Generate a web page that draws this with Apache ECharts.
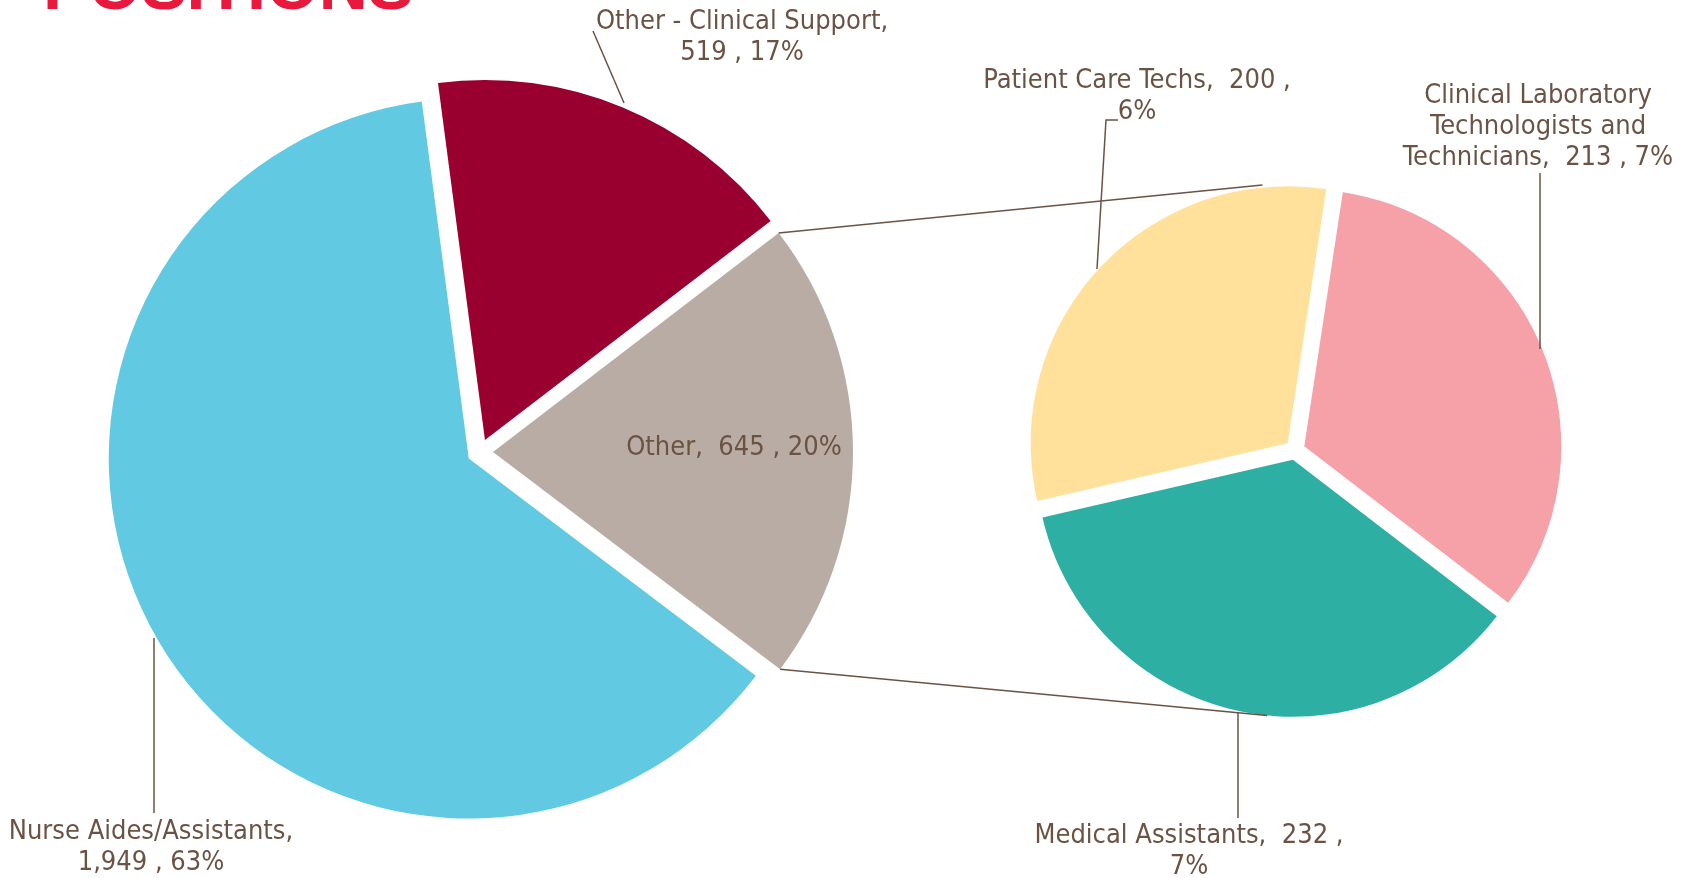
<!DOCTYPE html>
<html>
<head>
<meta charset="utf-8">
<title>Clinical Support Positions</title>
<script src="https://cdn.jsdelivr.net/npm/echarts@6/dist/echarts.min.js"></script>
<style>
    html, body { margin: 0; padding: 0; background: #fff; }
    #chart { width: 1686px; height: 878px; }
</style>
</head>
<body>
<div id="chart"></div>
<script>
// 主饼图数据
const mainNames = ['Other - Clinical Support', 'Other', 'Nurse Aides/Assistants'];
const mainValues = [519, 645, 1949];
const mainPercents = ['17%', '20%', '63%'];
const mainColors = ['#990030', '#B9ACA4', '#62C9E3'];

// 次级饼图数据（"Other" 拆分）
const subNames = ['Patient Care Techs', 'Clinical Laboratory Technologists and Technicians', 'Medical Assistants'];
const subValues = [200, 213, 232];
const subPercents = ['6%', '7%', '7%'];
const subColors = ['#FFE19B', '#F5A1A7', '#2DAFA3'];

const textColor = '#6B5344';
const labelFont = '27px "DejaVu Sans Condensed"';

// 饼图几何
const mainPie = { cx: 480, cy: 452, r: 360, offset: 13, start: 97.5 };
const subPie = { cx: 1295, cy: 450, r: 257, offset: 10, start: 193 };

// 标签文字的换行方式
function labelText(name, value, pct) {
    const v = value.toLocaleString('en-US');
    switch (name) {
        case 'Other - Clinical Support':
        case 'Nurse Aides/Assistants':
            return name + ',\n' + v + ' , ' + pct;
        case 'Other':
            return name + ',  ' + v + ' , ' + pct;
        case 'Clinical Laboratory Technologists and Technicians':
            return 'Clinical Laboratory\nTechnologists and\nTechnicians,  ' + v + ' , ' + pct;
        default:
            return name + ',  ' + v + ' ,\n' + pct;
    }
}

// 标签位置与引导线（像素）
const labelPos = {
    'Other - Clinical Support': { x: 742, y: 37, line: [[624, 103], [593, 31]] },
    'Other': { x: 734, y: 448 },
    'Nurse Aides/Assistants': { x: 151, y: 847, line: [[154, 638], [154, 813]] },
    'Patient Care Techs': { x: 1137, y: 96, line: [[1097, 269], [1106, 120], [1118, 120]] },
    'Clinical Laboratory Technologists and Technicians': { x: 1538, y: 127, line: [[1540, 349], [1540, 173]] },
    'Medical Assistants': { x: 1189, y: 851, line: [[1238, 712], [1238, 818]] }
};

function buildData(names, values, colors) {
    return names.map((name, i) => ({
        name: name,
        value: values[i],
        selected: true,
        itemStyle: { color: colors[i] }
    }));
}

function pieSeries(pie, names, values, colors) {
    return {
        type: 'pie',
        center: [pie.cx, pie.cy],
        radius: [0, pie.r],
        startAngle: pie.start,
        clockwise: true,
        selectedMode: 'multiple',
        selectedOffset: pie.offset,
        animation: false,
        emphasis: { disabled: true },
        select: { itemStyle: { borderWidth: 0 } },
        label: { show: false },
        labelLine: { show: false },
        data: buildData(names, values, colors)
    };
}

// 标签与引导线图形
function labelGraphics(names, values, pcts) {
    const out = [];
    names.forEach((name, i) => {
        const p = labelPos[name];
        out.push({
            type: 'text', x: p.x, y: p.y, z: 20,
            style: {
                text: labelText(name, values[i], pcts[i]),
                fill: textColor, font: labelFont, lineHeight: 31,
                align: 'center', verticalAlign: 'middle'
            }
        });
        if (p.line) {
            out.push({
                type: 'polyline', z: 20,
                shape: { points: p.line },
                style: { stroke: textColor, lineWidth: 1.5, fill: null }
            });
        }
    });
    return out;
}

// 连接线：从主饼图 "Other" 扇区两角连到次级饼图上下
function pointOn(pie, angleDeg, radius, shift) {
    const a = angleDeg * Math.PI / 180;
    return [pie.cx + shift[0] + radius * Math.cos(a), pie.cy + shift[1] - radius * Math.sin(a)];
}

const total = mainValues.reduce((s, v) => s + v, 0);
const otherIdx = mainNames.indexOf('Other');
const before = mainValues.slice(0, otherIdx).reduce((s, v) => s + v, 0);
const otherStart = mainPie.start - 360 * before / total;
const otherEnd = otherStart - 360 * mainValues[otherIdx] / total;
const otherMid = (otherStart + otherEnd) / 2 * Math.PI / 180;
const otherShift = [mainPie.offset * Math.cos(otherMid), -mainPie.offset * Math.sin(otherMid)];
const cTop = pointOn(mainPie, otherStart, mainPie.r, otherShift);
const cBot = pointOn(mainPie, otherEnd, mainPie.r, otherShift);
const sTop = pointOn(subPie, 97, subPie.r + subPie.offset, [0, 0]);
const sBot = pointOn(subPie, 264, subPie.r + subPie.offset, [0, 0]);

const chart = echarts.init(document.getElementById('chart'));
chart.setOption({
    backgroundColor: '#fff',
    graphic: [
        {
            type: 'text', left: 43, top: -44, z: 10,
            style: { text: 'POSITIONS', fill: '#E8193C', font: 'bold 68px "Liberation Sans"' }
        },
        {
            type: 'line', z: 10,
            shape: { x1: cTop[0], y1: cTop[1], x2: sTop[0], y2: sTop[1] },
            style: { stroke: textColor, lineWidth: 1.5 }
        },
        {
            type: 'line', z: 10,
            shape: { x1: cBot[0], y1: cBot[1], x2: sBot[0], y2: sBot[1] },
            style: { stroke: textColor, lineWidth: 1.5 }
        }
    ].concat(labelGraphics(mainNames, mainValues, mainPercents))
     .concat(labelGraphics(subNames, subValues, subPercents)),
    series: [
        pieSeries(mainPie, mainNames, mainValues, mainColors),
        pieSeries(subPie, subNames, subValues, subColors)
    ]
});
window.addEventListener('resize', () => chart.resize());
</script>
</body>
</html>
